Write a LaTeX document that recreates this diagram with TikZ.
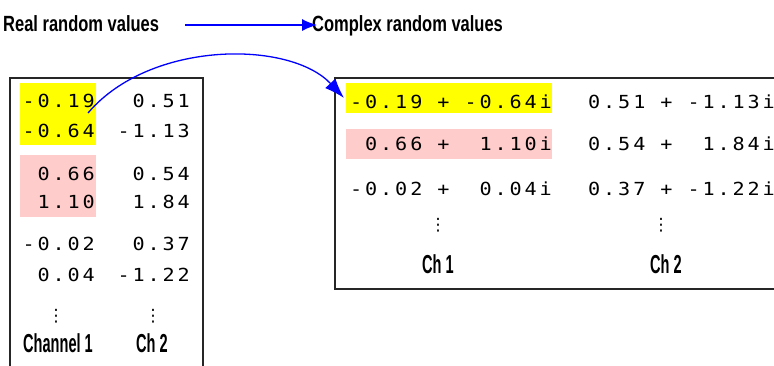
\documentclass[tikz,border=0pt]{standalone}
\usepackage{fontspec}
\usetikzlibrary{arrows.meta}
\newfontfamily\numfont[LetterSpace=16,FakeStretch=1.12]{DejaVu Sans Mono}
\newfontfamily\lblfont[FakeStretch=0.56]{Liberation Sans}
\newfontfamily\ttlfont[FakeStretch=0.75]{Liberation Sans}
\newfontfamily\symfont{DejaVu Sans}
\definecolor{pinkhl}{RGB}{255,204,204}
\definecolor{hlyellow}{RGB}{255,255,0}
\definecolor{linkblue}{RGB}{0,0,255}
\begin{document}
\begin{tikzpicture}[x=1pt,y=-1pt,
  num/.style={font=\numfont\fontsize{18}{20}\selectfont, inner sep=0pt, anchor=base east},
  lbl/.style={font=\lblfont\bfseries\fontsize{26}{28}\selectfont, inner sep=0pt, anchor=base},
  ttl/.style={font=\ttlfont\bfseries\fontsize{22}{24}\selectfont, inner sep=0pt, anchor=base west},
  vd/.style={font=\symfont\fontsize{17}{18}\selectfont, inner sep=0pt},
  frame/.style={draw=black!85, line width=1.3pt},
  conn/.style={draw=linkblue, line width=1.3pt},
  tipA/.style={-{Latex[length=15pt,width=12pt]}},
  tipB/.style={-{Latex[length=20pt,width=14pt]}}]
\useasboundingbox (0,0) rectangle (774,365);
% titles
\node[ttl] (real) at (3,31) {Real random values};
\node[ttl] (cplx) at (312,31) {Complex random values};
\coordinate (ha) at (185,25);
\coordinate (hb) at (317,25);
\draw[conn,tipA] (ha) -- (hb);
% left box
\draw[frame] (10,78) rectangle (203,372);
\fill[hlyellow] (20,83) rectangle (96,145);
\fill[pinkhl] (20,155) rectangle (96,217);
\node[num] (l11) at (95,107) {-0.19};
\node[num] (l12) at (190,107) {0.51};
\node[num] (l21) at (95,137) {-0.64};
\node[num] (l22) at (190,137) {-1.13};
\node[num] (l31) at (95,180) {0.66};
\node[num] (l32) at (190,180) {0.54};
\node[num] (l41) at (95,208) {1.10};
\node[num] (l42) at (190,208) {1.84};
\node[num] (l51) at (95,250) {-0.02};
\node[num] (l52) at (190,250) {0.37};
\node[num] (l61) at (95,281) {0.04};
\node[num] (l62) at (190,281) {-1.22};
\node[vd] (ld1) at (56,316) {⋮};
\node[vd] (ld2) at (153,316) {⋮};
\node[lbl] (lc1) at (58,352) {Channel 1};
\node[lbl] (lc2) at (152,352) {Ch 2};
% right box
\draw[frame] (335,78) rectangle (780,289);
\fill[hlyellow] (346,83) rectangle (552,113);
\fill[pinkhl] (346,129) rectangle (552,159);
\node[num] (r11) at (552,108) {-0.19~+~-0.64i};
\node[num] (r12) at (775,108) {0.51~+~-1.13i};
\node[num] (r21) at (552,150) {0.66~+~~1.10i};
\node[num] (r22) at (775,150) {0.54~+~~1.84i};
\node[num] (r31) at (552,195) {-0.02~+~~0.04i};
\node[num] (r32) at (775,195) {0.37~+~-1.22i};
\node[vd] (rd1) at (438,225) {⋮};
\node[vd] (rd2) at (661,225) {⋮};
\node[lbl] (rc1) at (438,273) {Ch 1};
\node[lbl] (rc2) at (666,273) {Ch 2};
% curved connector
\coordinate (src) at (88,113);
\coordinate (dst) at (344,98);
\draw[conn,tipB] (src) .. controls (150,40) and (290,40) .. (dst);
\end{tikzpicture}
\end{document}
